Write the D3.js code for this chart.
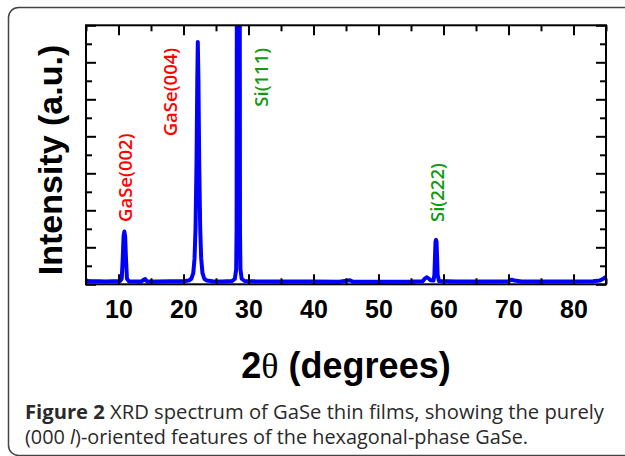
<!DOCTYPE html>
<html>
<head>
<meta charset="utf-8">
<script src="https://cdn.jsdelivr.net/npm/d3@7"></script>
<style>
  body { margin: 0; background: #fff; }
  svg { display: block; }
</style>
</head>
<body>
<div id="chart"></div>
<script>
const width = 625;
const height = 456;

// plot box in page pixels
const plot = { left: 86, right: 606, top: 25.3, bottom: 284.3 };

// XRD pattern: 2theta (deg), intensity (a.u.)
const twoTheta = [5, 6, 7, 8, 9, 10.2, 10.5, 10.65, 10.78, 10.9, 11.02, 11.15, 11.3, 11.6,
    13.5, 13.9, 14.1, 14.4, 16, 18, 20, 20.8, 21.2, 21.5, 21.7, 21.85, 22.0, 22.12, 22.2,
    22.3, 22.42, 22.57, 22.72, 22.92, 23.2, 23.6, 24.5, 26, 27.5, 27.9, 28.1, 28.17, 28.2,
    28.43, 28.66, 28.69, 28.76, 28.95, 29.4, 31, 35, 40, 44, 45.3, 45.6, 46, 50, 55, 56.8,
    57.1, 57.4, 57.7, 58.0, 58.45, 58.6, 58.7, 58.77, 58.85, 58.93, 59.0, 59.1, 59.3, 62,
    66, 70, 70.5, 70.9, 72, 78, 83, 84, 84.6, 85];
const intensity = [0.18, 0.16, 0.17, 0.15, 0.16, 0.16, 0.3, 1.4, 2.6, 2.85, 2.6, 1.4, 0.3, 0.16,
    0.15, 0.25, 0.28, 0.15, 0.15, 0.16, 0.17, 0.2, 0.3, 0.6, 1.4, 3, 6.5, 11, 13.1,
    11, 6.5, 3, 1.4, 0.6, 0.3, 0.2, 0.16, 0.15, 0.18, 0.3, 0.8, 3, 14,
    40, 14, 3, 0.8, 0.3, 0.18, 0.16, 0.15, 0.15, 0.14, 0.2, 0.22, 0.15, 0.14, 0.15, 0.17,
    0.3, 0.38, 0.32, 0.22, 0.2, 0.5, 1.6, 2.3, 2.4, 2.3, 1.6, 0.5, 0.18, 0.15,
    0.15, 0.17, 0.25, 0.2, 0.15, 0.15, 0.16, 0.2, 0.3, 0.4];

// peak labels: text, anchor 2theta, anchor intensity (start of the rotated label)
const peakNames = ["GaSe(002)", "GaSe(004)", "Si(111)", "Si(222)"];
const peakTheta = [10.9, 17.9, 31.85, 58.85];
const peakLevel = [3.37, 8.0, 9.6, 3.37];
const peakPhase = ["GaSe", "GaSe", "Si", "Si"];

const xMajor = [10, 20, 30, 40, 50, 60, 70, 80];
const xMinor = [5, 15, 25, 35, 45, 55, 65, 75, 85];
const yMajor = [0, 2, 4, 6, 8, 10, 12, 14];
const yMinor = [1, 3, 5, 7, 9, 11, 13];

const data = twoTheta.map((t, i) => ({ t: t, v: intensity[i] }));
const labels = peakNames.map((n, i) => ({ name: n, t: peakTheta[i], v: peakLevel[i], phase: peakPhase[i] }));

const phaseColor = d3.scaleOrdinal().domain(["GaSe", "Si"]).range(["#ff0000", "#129912"]);

const x = d3.scaleLinear().domain([5, 85]).range([plot.left, plot.right]);
const y = d3.scaleLinear().domain([0, 14]).range([plot.bottom, plot.top]);

const svg = d3.select("#chart").append("svg")
    .attr("width", width)
    .attr("height", height);

// figure frame (rounded, runs off the right edge)
svg.append("rect")
    .attr("x", 8.5)
    .attr("y", 7.5)
    .attr("width", 700)
    .attr("height", 448)
    .attr("rx", 10)
    .attr("fill", "none")
    .attr("stroke", "#444")
    .attr("stroke-width", 1.5);

svg.append("clipPath")
    .attr("id", "clip")
    .append("rect")
    .attr("x", plot.left)
    .attr("y", plot.top)
    .attr("width", plot.right - plot.left)
    .attr("height", plot.bottom - plot.top);

// spectrum
const line = d3.line().x(d => x(d.t)).y(d => y(d.v));

svg.append("path")
    .datum(data)
    .attr("clip-path", "url(#clip)")
    .attr("d", line)
    .attr("fill", "none")
    .attr("stroke", "#0000ff")
    .attr("stroke-width", 4)
    .attr("stroke-linejoin", "round");

// axes, all ticks point inward
function styleAxis(sel) {
    sel.select(".domain").remove();
    sel.selectAll(".tick line").attr("stroke", "#000").attr("stroke-width", 2);
}

svg.append("g")
    .attr("transform", `translate(0,${plot.bottom})`)
    .call(d3.axisBottom(x).tickValues(xMajor).tickSize(-10).tickPadding(16).tickFormat(d3.format("d")))
    .call(styleAxis)
    .call(g => g.selectAll("text")
        .attr("font-family", "'Liberation Sans', Arial, sans-serif")
        .attr("font-weight", 700)
        .attr("font-size", 25)
        .attr("fill", "#000"));

svg.append("g")
    .attr("transform", `translate(0,${plot.bottom})`)
    .call(d3.axisBottom(x).tickValues(xMinor).tickSize(-6).tickFormat(""))
    .call(styleAxis);

svg.append("g")
    .attr("transform", `translate(0,${plot.top})`)
    .call(d3.axisTop(x).tickValues(xMajor).tickSize(-10).tickFormat(""))
    .call(styleAxis);

svg.append("g")
    .attr("transform", `translate(0,${plot.top})`)
    .call(d3.axisTop(x).tickValues(xMinor).tickSize(-6).tickFormat(""))
    .call(styleAxis);

svg.append("g")
    .attr("transform", `translate(${plot.left},0)`)
    .call(d3.axisLeft(y).tickValues(yMajor).tickSize(-10).tickFormat(""))
    .call(styleAxis);

svg.append("g")
    .attr("transform", `translate(${plot.left},0)`)
    .call(d3.axisLeft(y).tickValues(yMinor).tickSize(-6).tickFormat(""))
    .call(styleAxis);

svg.append("g")
    .attr("transform", `translate(${plot.right},0)`)
    .call(d3.axisRight(y).tickValues(yMajor).tickSize(-10).tickFormat(""))
    .call(styleAxis);

svg.append("g")
    .attr("transform", `translate(${plot.right},0)`)
    .call(d3.axisRight(y).tickValues(yMinor).tickSize(-6).tickFormat(""))
    .call(styleAxis);

// plot frame
svg.append("rect")
    .attr("x", plot.left)
    .attr("y", plot.top)
    .attr("width", plot.right - plot.left)
    .attr("height", plot.bottom - plot.top)
    .attr("fill", "none")
    .attr("stroke", "#000")
    .attr("stroke-width", 2);

// peak labels
svg.selectAll("text.peak")
    .data(labels)
    .join("text")
    .attr("class", "peak")
    .attr("transform", d => `translate(${x(d.t)},${y(d.v)}) rotate(-90)`)
    .attr("dominant-baseline", "central")
    .attr("font-family", "'Open Sans', sans-serif")
    .attr("font-weight", 600)
    .attr("font-size", 18.5)
    .attr("fill", d => phaseColor(d.phase))
    .text(d => d.name);

// axis titles
svg.append("text")
    .attr("transform", "translate(62,160) rotate(-90)")
    .attr("text-anchor", "middle")
    .attr("font-family", "'Liberation Sans', Arial, sans-serif")
    .attr("font-weight", 700)
    .attr("font-size", 34)
    .attr("fill", "#000")
    .text("Intensity (a.u.)");

const xTitle = svg.append("text")
    .attr("x", (plot.left + plot.right) / 2)
    .attr("y", 378)
    .attr("text-anchor", "middle")
    .attr("font-family", "'Liberation Sans', Arial, sans-serif")
    .attr("font-weight", 700)
    .attr("font-size", 36)
    .attr("fill", "#000");
xTitle.append("tspan").text("2");
xTitle.append("tspan").attr("font-family", "'Liberation Serif', serif").attr("font-weight", 400).text("θ");
xTitle.append("tspan").text(" (degrees)");

// caption
const cap1 = svg.append("text")
    .attr("x", 25)
    .attr("y", 419)
    .attr("font-family", "'Open Sans', sans-serif")
    .attr("font-size", 19.5)
    .attr("textLength", 579)
    .attr("lengthAdjust", "spacingAndGlyphs")
    .attr("fill", "#2a2a2a");
cap1.append("tspan").attr("font-weight", 700).text("Figure 2");
cap1.append("tspan").text(" XRD spectrum of GaSe thin films, showing the purely");

const cap2 = svg.append("text")
    .attr("x", 25)
    .attr("y", 444)
    .attr("font-family", "'Open Sans', sans-serif")
    .attr("font-size", 19.5)
    .attr("textLength", 503)
    .attr("lengthAdjust", "spacingAndGlyphs")
    .attr("fill", "#2a2a2a");
cap2.append("tspan").text("(000 ");
cap2.append("tspan").attr("font-style", "italic").text("l");
cap2.append("tspan").text(")-oriented features of the hexagonal-phase GaSe.");
</script>
</body>
</html>
